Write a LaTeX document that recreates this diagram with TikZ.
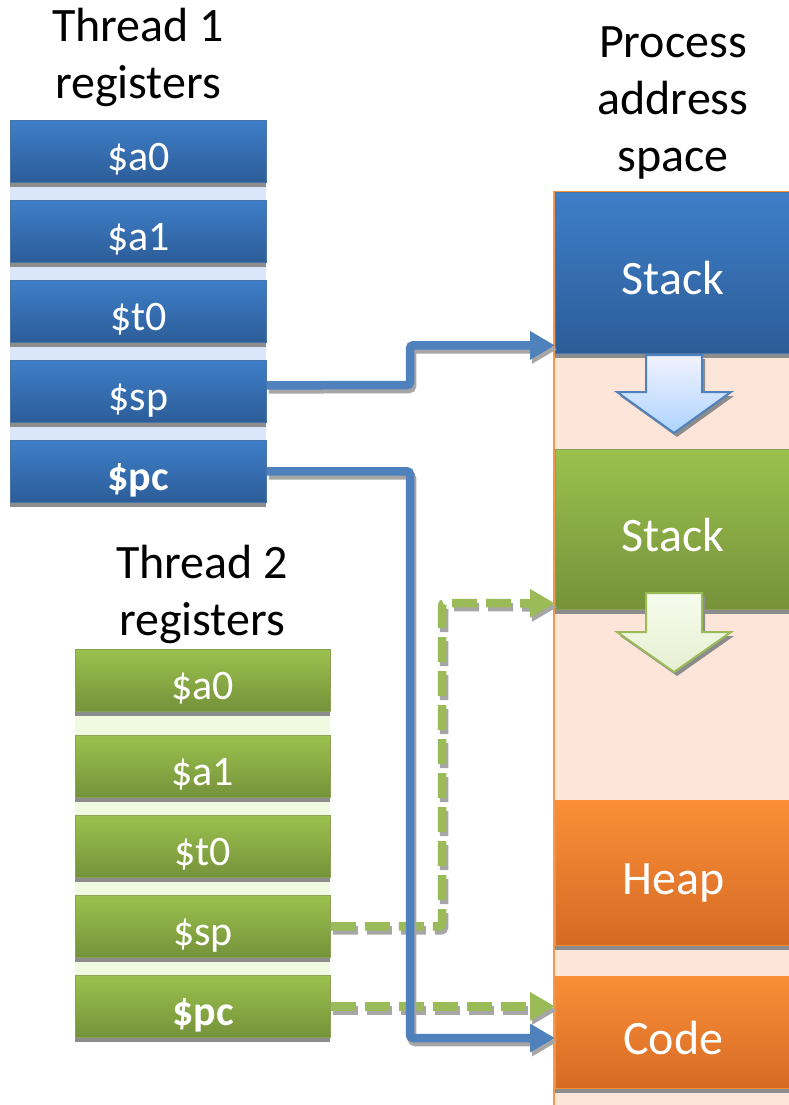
\documentclass[tikz,border=0pt]{standalone}
\usepackage{fontspec}
\setmainfont{Carlito}
\usetikzlibrary{arrows.meta,shadows}

\definecolor{regblue}{RGB}{62,126,200}
\definecolor{regbluedark}{RGB}{44,93,152}
\definecolor{bandblue}{RGB}{218,230,250}
\definecolor{reggreen}{RGB}{155,193,78}
\definecolor{reggreendark}{RGB}{117,146,58}
\definecolor{bandgreen}{RGB}{240,250,224}
\definecolor{segorange}{RGB}{250,143,56}
\definecolor{segorangedark}{RGB}{214,106,36}
\definecolor{peach}{RGB}{253,229,218}
\definecolor{spaceedge}{RGB}{247,150,70}
\definecolor{wireblue}{RGB}{79,129,189}
\definecolor{wiregreen}{RGB}{155,187,89}

\begin{document}
\begin{tikzpicture}[%
    x=1pt, y=-1pt,
    >={Triangle[length=25pt,width=27pt]},
    boxshadow/.style={drop shadow={shadow xshift=0pt, shadow yshift=-5pt, fill=black!45, opacity=1}},
    title/.style={align=center, font=\fontsize{48}{57}\selectfont},
    reg/.style={anchor=north west, minimum height=62pt, inner sep=0pt,
        text height=38pt, text depth=0pt,
        text=white, font=\fontsize{42}{50}\selectfont, boxshadow},
    bluereg/.style={reg, minimum width=256pt, draw=regbluedark!85, line width=0.8pt,
        top color=regblue, bottom color=regbluedark},
    greenreg/.style={reg, minimum width=255pt, draw=reggreendark!85, line width=0.8pt,
        top color=reggreen, bottom color=reggreendark},
    seg/.style={anchor=north west, minimum width=236pt, inner sep=0pt,
        text height=44pt, text depth=0pt,
        text=white, font=\fontsize{48}{57}\selectfont, boxshadow},
    growarrow/.style={line width=2pt, line join=miter,
        drop shadow={shadow xshift=3pt, shadow yshift=-4pt, fill=black!45, opacity=1}},
    wire/.style={line width=8.5pt, rounded corners=3pt, ->},
    dashwire/.style={wire, dash pattern=on 25pt off 9pt},
    wireshadow/.style={draw=black!35, transform canvas={shift={(2pt,-4pt)}}}
    ]

    \useasboundingbox (0,0) rectangle (788,1105);

    % titles
    \node[title] (t1title) at (138,57) {Thread 1\\registers};
    \node[title] (t2title) at (202,594) {Thread 2\\registers};
    \node[title] (spacetitle) at (673,103) {Process\\address\\space};

    % thread 1 registers
    \fill[bandblue] (10,120) rectangle (266,505);
    \node[bluereg] (t1a0) at (10,120) {\$a0};
    \node[bluereg] (t1a1) at (10,200) {\$a1};
    \node[bluereg] (t1t0) at (10,280) {\$t0};
    \node[bluereg] (t1sp) at (10,360) {\$sp};
    \node[bluereg] (t1pc) at (10,440) {\bfseries \$pc};

    % thread 2 registers
    \fill[bandgreen] (75,649) rectangle (330,1040);
    \node[greenreg] (t2a0) at (75,649) {\$a0};
    \node[greenreg] (t2a1) at (75,735) {\$a1};
    \node[greenreg] (t2t0) at (75,815) {\$t0};
    \node[greenreg] (t2sp) at (75,895) {\$sp};
    \node[greenreg] (t2pc) at (75,975) {\bfseries \$pc};

    % address space
    \fill[peach] (554,192) rectangle (792,1110);
    \draw[spaceedge, line width=2pt] (554,1110) -- (554,192) -- (792,192);
    \node[seg, minimum height=161pt, draw=regbluedark!85, top color=regblue, bottom color=regbluedark] (stack1) at (555,192) {Stack};
    \node[seg, minimum height=160pt, draw=reggreendark!85, top color=reggreen, bottom color=reggreendark] (stack2) at (555,449) {Stack};
    \node[seg, minimum height=145pt, draw=segorange, top color=segorange, bottom color=segorangedark] (heap) at (555,800) {Heap};
    \node[seg, minimum height=112pt, draw=segorange, top color=segorange, bottom color=segorangedark] (code) at (555,976) {Code};

    % growth arrows
    \draw[growarrow, draw=wireblue, top color=blue!5!white, bottom color=blue!20!white!85!cyan]
        (646,355) -- (702,355) -- (702,392) -- (731,392) -- (674,433) -- (617,392) -- (646,392) -- cycle;
    \draw[growarrow, draw=wiregreen, top color=bandgreen!60!white, bottom color=reggreen!25!white]
        (646,593) -- (702,593) -- (702,632) -- (731,632) -- (674,672) -- (617,632) -- (646,632) -- cycle;

    \coordinate (t2bend) at (442,603);
    \coordinate (spbend) at (410,385);
    \coordinate (pcbend) at (410,1038);

    % thread 2 pointers
    \draw[dashwire, wireshadow] (t2sp.east) -| (t2bend) -- ([yshift=6pt]stack2.south west);
    \draw[dashwire, wiregreen] (t2sp.east) -| (t2bend) -- ([yshift=6pt]stack2.south west);
    \draw[dashwire, wireshadow] (t2pc.east) -- (t2pc.east -| code.west);
    \draw[dashwire, wiregreen] (t2pc.east) -- (t2pc.east -| code.west);

    % thread 1 pointers
    \draw[wire, wireshadow] ([yshift=6pt]t1sp.east) -- (spbend) |- ([yshift=8pt]stack1.south west);
    \draw[wire, wireblue] ([yshift=6pt]t1sp.east) -- (spbend) |- ([yshift=8pt]stack1.south west);
    \draw[wire, wireshadow] (t1pc.east) -| (pcbend) -- (pcbend -| code.west);
    \draw[wire, wireblue] (t1pc.east) -| (pcbend) -- (pcbend -| code.west);

\end{tikzpicture}
\end{document}
